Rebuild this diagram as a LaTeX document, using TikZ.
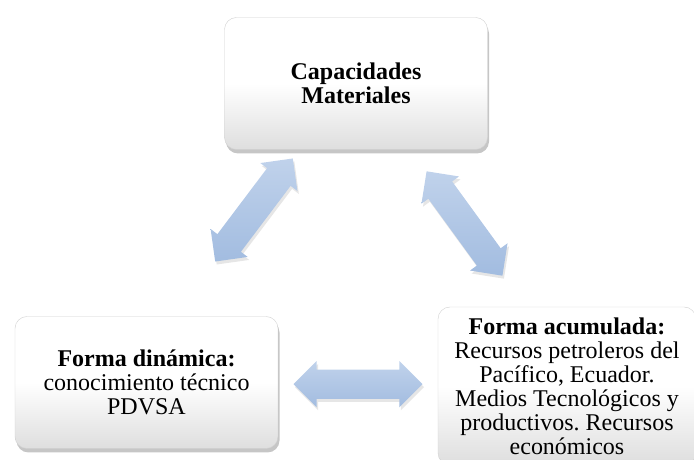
\documentclass[tikz,border=0pt]{standalone}
\usepackage{fontspec}
\setmainfont{Liberation Serif}
\usetikzlibrary{shapes,arrows,positioning,shadows,calc}
\definecolor{arrowlight}{RGB}{192,210,235}
\definecolor{arrowdark}{RGB}{162,188,224}
\frenchspacing

\begin{document}
\begin{tikzpicture}[x=1pt,y=1pt,
    box/.style={rectangle, rounded corners=12pt, draw=black!18, top color=white, bottom color=black!13, middle color=white,
      minimum width=263pt, minimum height=132pt, align=center, font=\fontsize{24}{24}\selectfont,
      drop shadow={shadow xshift=1.5pt, shadow yshift=-4pt, opacity=0.45}},
    biarrow/.style={double arrow, double arrow head extend=8.5pt, inner xsep=0pt, inner ysep=14.5pt, minimum height=129pt,
      top color=arrowlight, bottom color=arrowdark,
      drop shadow={shadow xshift=1.5pt, shadow yshift=-3pt, opacity=0.2}}]
    \useasboundingbox (0,0) rectangle (694,460);
    \clip (0,0) rectangle (694,460);
    % the three boxes
    \node [box] (capac) at (356,376.5) {\textbf{Capacidades}\\\textbf{Materiales}};
    \node [box] (dinam) at (146.5,77.5) {\textbf{Forma dinámica:}\\conocimiento técnico\\PDVSA};
    \node [box, minimum width=258pt, minimum height=158pt] (acum) at (567,74)
      {\textbf{Forma acumulada:}\\Recursos petroleros del\\Pacífico, Ecuador.\\Medios Tecnológicos y\\productivos. Recursos\\económicos};
    % arrows between them
    \node [biarrow, rotate=53] (arrleft) at (254,250) {};
    \node [biarrow, rotate=-54] (arrright) at (464.5,236.5) {};
    \node [biarrow] (arrbottom) at ($(dinam.east)!0.5!(acum.west)$) {};
\end{tikzpicture}
\end{document}
